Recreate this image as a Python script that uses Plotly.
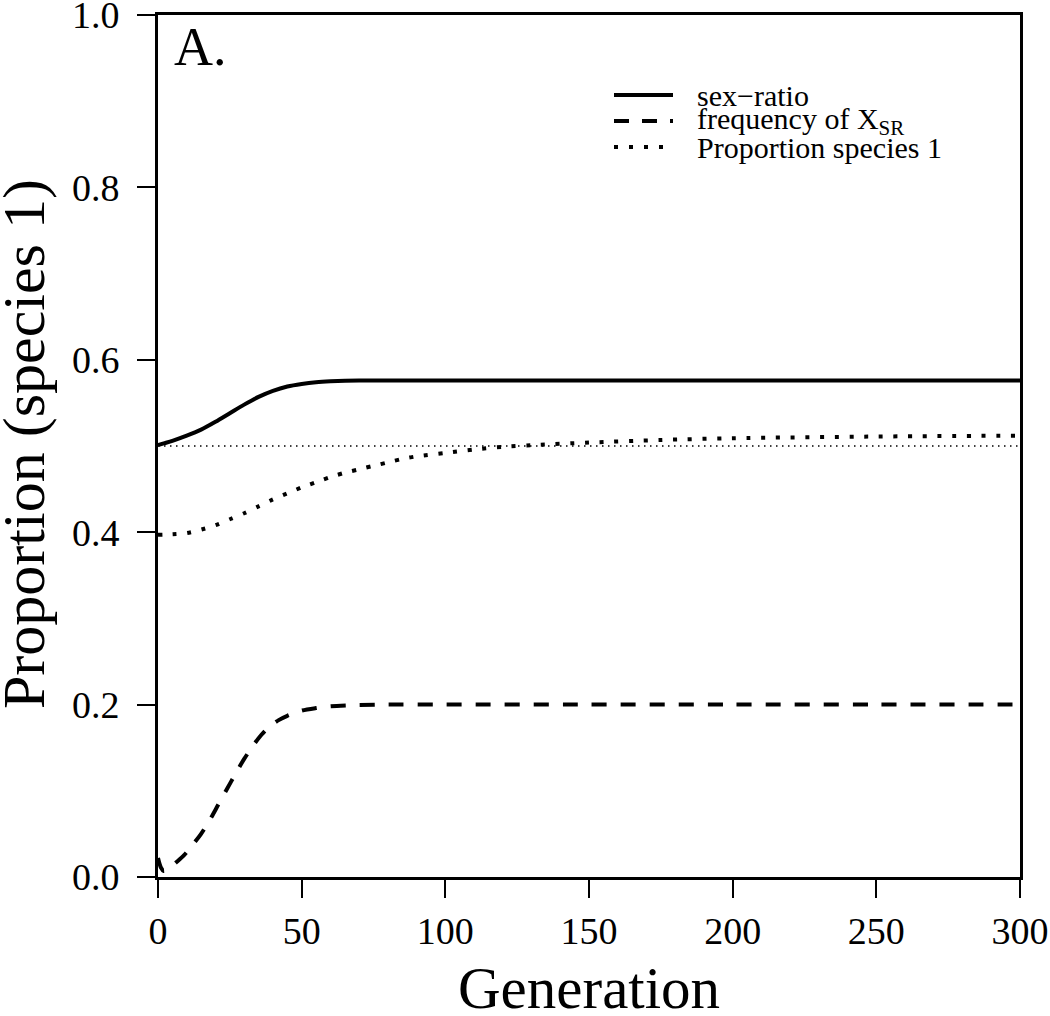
import plotly.graph_objects as go

# ---- data ----
gen_sr = [0, 2, 5, 10, 15, 20, 25, 30, 35, 40, 45, 50, 55, 60, 70, 80, 100, 150, 200, 250, 300]
sex_ratio = [0.501, 0.503, 0.506, 0.512, 0.519, 0.528, 0.538, 0.548, 0.557, 0.564, 0.569, 0.572,
             0.574, 0.575, 0.576, 0.576, 0.576, 0.576, 0.576, 0.576, 0.576]

gen_x = [0, 1, 2, 4, 6, 9, 12, 15, 18, 21, 24, 27, 30, 33, 36, 39, 42, 45, 50, 55, 60, 70, 80, 100,
         150, 200, 250, 300]
freq_xsr = [0.022, 0.011, 0.007, 0.010, 0.016, 0.025, 0.037, 0.050, 0.066, 0.084, 0.102, 0.120, 0.137,
            0.152, 0.165, 0.175, 0.182, 0.187, 0.193, 0.196, 0.198, 0.1995, 0.2, 0.2,
            0.2, 0.2, 0.2, 0.2]

gen_sp = [0, 5, 10, 15, 20, 25, 30, 35, 40, 45, 50, 55, 60, 65, 70, 75, 80, 85, 90, 100, 110, 120,
          130, 150, 175, 200, 250, 300]
prop_sp1 = [0.397, 0.3976, 0.399, 0.403, 0.408, 0.415, 0.422, 0.430, 0.438, 0.445, 0.452, 0.458,
            0.464, 0.469, 0.473, 0.477, 0.481, 0.485, 0.488, 0.492, 0.496, 0.499,
            0.501, 0.504, 0.507, 0.509, 0.511, 0.512]

ref_x = [0, 300]
ref_y = [0.5, 0.5]

x_ticks = [0, 50, 100, 150, 200, 250, 300]
y_ticks = [0.0, 0.2, 0.4, 0.6, 0.8, 1.0]
y_tick_labels = ["0.0", "0.2", "0.4", "0.6", "0.8", "1.0"]

legend_labels = ["sex\u2212ratio", "frequency of X<sub>SR</sub>", "Proportion species 1"]

FONT = "Liberation Serif, Times New Roman, serif"

fig = go.Figure()
fig.add_trace(go.Scatter(x=ref_x, y=ref_y, mode="lines",
                         line=dict(color="black", width=1.5, dash="1.5px,4.5px"),
                         showlegend=False, hoverinfo="skip"))
fig.add_trace(go.Scatter(x=gen_sr, y=sex_ratio, mode="lines", name=legend_labels[0],
                         line=dict(color="black", width=4, shape="spline", smoothing=0.8)))
fig.add_trace(go.Scatter(x=gen_x, y=freq_xsr, mode="lines", name=legend_labels[1],
                         line=dict(color="black", width=4, dash="15px,14px", shape="spline", smoothing=0.8)))
fig.add_trace(go.Scatter(x=gen_sp, y=prop_sp1, mode="lines", name=legend_labels[2],
                         line=dict(color="black", width=4, dash="4px,10.7px", shape="spline", smoothing=0.8)))

L, R, T, B = 158, 30, 15, 139
W, H = 1050, 1016
pw, ph = W - L - R, H - T - B

def px(xp):
    return (xp - L) / pw

def py(yp):
    return (H - B - yp) / ph

# manual legend (R style, no box)
rows = [95, 121, 147]
dashes = ["solid", "15px,13px", "4px,11px"]
for lab, yy, d in zip(legend_labels, rows, dashes):
    fig.add_shape(type="line", xref="paper", yref="paper",
                  x0=px(614), x1=px(673), y0=py(yy), y1=py(yy),
                  line=dict(color="black", width=4, dash=d))
    fig.add_annotation(text=lab, xref="paper", yref="paper", x=px(695), y=py(yy),
                       xanchor="left", yanchor="middle", showarrow=False,
                       font=dict(family=FONT, size=30, color="black"))

fig.add_annotation(text="A.", xref="paper", yref="paper", x=px(172), y=py(47),
                   xanchor="left", yanchor="middle", showarrow=False,
                   font=dict(family=FONT, size=54, color="black"))

fig.add_annotation(text="Generation", xref="paper", yref="paper", x=0.5, y=py(988),
                   xanchor="center", yanchor="middle", showarrow=False,
                   font=dict(family=FONT, size=59, color="black"))
fig.add_annotation(text="Proportion (species 1)", xref="paper", yref="paper", x=px(24), y=py(444),
                   xanchor="center", yanchor="middle", showarrow=False, textangle=-90,
                   font=dict(family=FONT, size=60, color="black"))

axis_common = dict(showline=True, linewidth=3, linecolor="black", mirror=True,
                   ticks="outside", ticklen=18, tickwidth=2, tickcolor="black",
                   showgrid=False, zeroline=False, ticklabeloverflow="allow",
                   automargin=False,
                   tickfont=dict(family=FONT, size=38, color="black"))

fig.update_xaxes(range=[0, 300], tickvals=x_ticks, ticklabelstandoff=0, **axis_common)
fig.update_yaxes(range=[0, 1], tickvals=y_ticks, ticktext=y_tick_labels, ticklabelstandoff=10,
                 **axis_common)

fig.update_layout(width=W, height=H, margin=dict(l=L, r=R, t=T, b=B, autoexpand=False),
                  plot_bgcolor="white", paper_bgcolor="white", showlegend=False,
                  font=dict(family=FONT, color="black"))

fig.write_html("out.html", post_script="document.body.style.margin='0';",
               config={"displayModeBar": False})
